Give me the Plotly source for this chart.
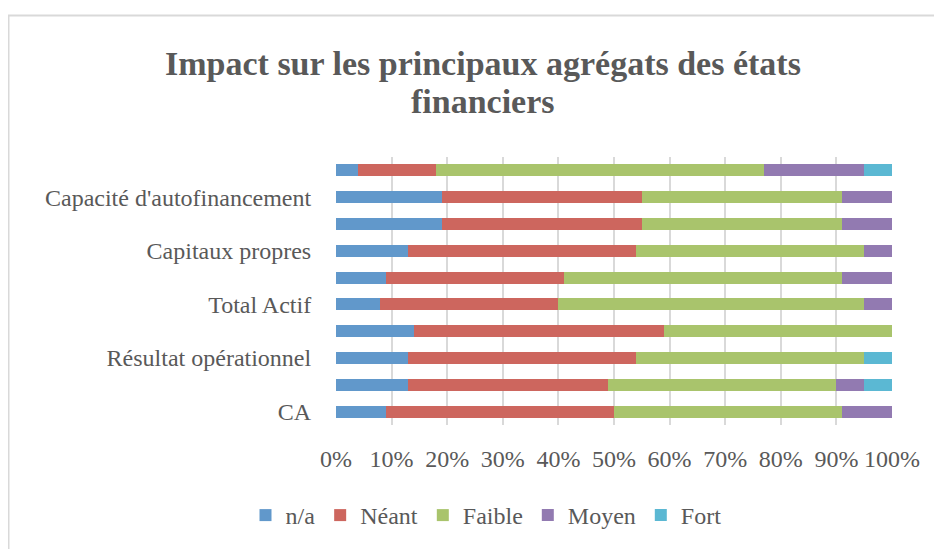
import plotly.graph_objects as go

# Aggregates, bottom to top (only every other one gets a visible label)
agregats = [
    "CA",
    "Marge brute",
    "Résultat opérationnel",
    "Résultat net",
    "Total Actif",
    "Dettes financières",
    "Capitaux propres",
    "Endettement net",
    "Capacité d'autofinancement",
    "Trésorerie",
]
labels_visibles = ["CA", "Résultat opérationnel", "Total Actif",
                   "Capitaux propres", "Capacité d'autofinancement"]

# shares in %
na = [9, 13, 13, 14, 8, 9, 13, 19, 19, 4]
neant = [41, 36, 41, 45, 32, 32, 41, 36, 36, 14]
faible = [41, 41, 41, 41, 55, 50, 41, 36, 36, 59]
moyen = [9, 5, 0, 0, 5, 9, 5, 9, 9, 18]
fort = [0, 5, 5, 0, 0, 0, 0, 0, 0, 5]

series = [
    ("n/a", na, "#6198CB"),
    ("Néant", neant, "#CD665E"),
    ("Faible", faible, "#A9C46C"),
    ("Moyen", moyen, "#927AB1"),
    ("Fort", fort, "#5BB8D3"),
]

titre = ["Impact sur les principaux agrégats des états", "financiers"]

font_txt = "Liberation Serif"
gris = "#595959"

# plot area in figure pixels (page has an 8px body offset)
L, R, T, B = 328, 58, 149, 132
PW, PH = 942 - L - R, 549 - T - B

fig = go.Figure()
for nom, vals, couleur in series:
    fig.add_trace(go.Bar(
        y=agregats, x=vals, name=nom, orientation="h",
        marker=dict(color=couleur, line=dict(width=0)),
    ))

fig.update_layout(
    barmode="stack",
    barnorm="percent",
    bargap=0.55,
    width=942, height=549,
    margin=dict(l=L, r=R, t=T, b=B),
    paper_bgcolor="white",
    plot_bgcolor="white",
    font=dict(family=font_txt, color=gris, size=24),
    legend=dict(
        orientation="h", x=(478 - L) / PW, xanchor="center", y=-68 / PH, yanchor="top",
        font=dict(size=24, color=gris), traceorder="normal",
        itemwidth=30,
    ),
    xaxis=dict(
        range=[0, 100], dtick=10, ticksuffix="%",
        showgrid=True, gridcolor="#D9D9D9", gridwidth=1.5,
        zeroline=False, showline=False,
        ticks="outside", ticklen=12, tickcolor="rgba(0,0,0,0)",
        tickfont=dict(size=24, color=gris),
    ),
    yaxis=dict(
        categoryorder="array", categoryarray=agregats,
        tickvals=labels_visibles,
        showgrid=False, zeroline=False, showline=False,
        ticks="outside", ticklen=19, tickcolor="rgba(0,0,0,0)",
        tickfont=dict(size=24, color=gris),
    ),
)

# two-line title, tighter line spacing than plotly's own title
for ligne, y_px in zip(titre, [55, 93]):
    fig.add_annotation(
        text=f"<b>{ligne}</b>", xref="paper", yref="paper",
        x=(475 - L) / PW, y=(PH + T - y_px) / PH,
        xanchor="center", yanchor="middle", showarrow=False,
        font=dict(family=font_txt, size=34, color=gris),
    )

# light border of the chart frame
fig.add_shape(
    type="rect", xref="paper", yref="paper",
    x0=(0.5 - L) / PW, x1=(970 - L) / PW,
    y0=(PH + T - 580) / PH, y1=(PH + T - 7.5) / PH,
    line=dict(color="#D9D9D9", width=2), fillcolor="rgba(0,0,0,0)",
    layer="below",
)

fig.write_html("out.html")
